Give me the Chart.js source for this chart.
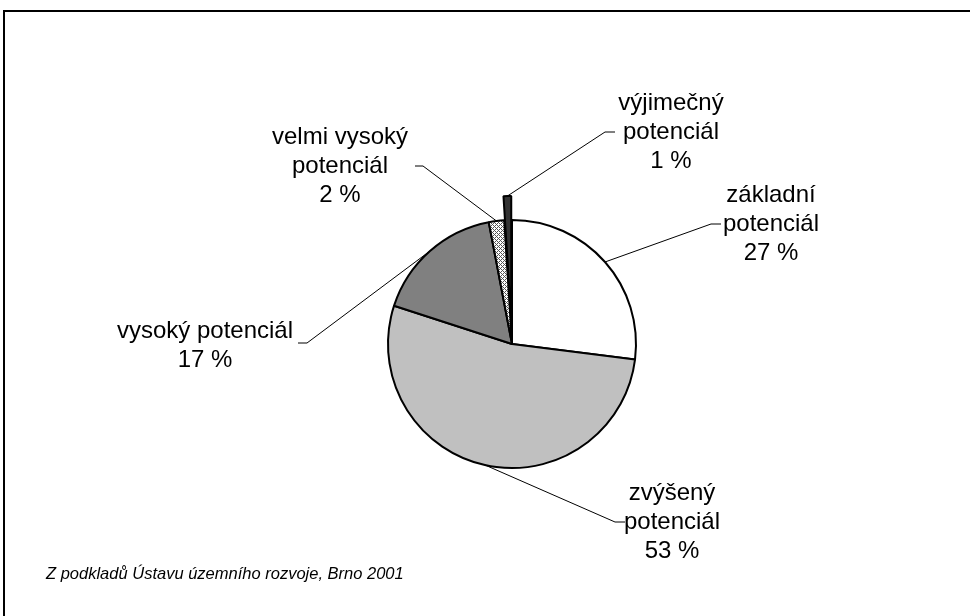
<!DOCTYPE html>
<html>
<head>
<meta charset="utf-8">
<script src="https://cdn.jsdelivr.net/npm/chart.js@4/dist/chart.umd.min.js"></script>
<style>
html, body { margin: 0; padding: 0; background: #fff; }
</style>
</head>
<body>
<canvas id="pie" width="970" height="616"></canvas>
<script>
// data
var categories = [['základní', 'potenciál'], ['zvýšený', 'potenciál'], ['vysoký potenciál'], ['velmi vysoký', 'potenciál'], ['výjimečný', 'potenciál']];
var shares = [27, 53, 17, 2, 1];
var note = 'Z podkladů Ústavu územního rozvoje, Brno 2001';

// styling / layout
var explode = [0, 0, 0, 0, 24];
var labelPos = [
    { x: 771, y: 202, elbow: [711, 224], stub: 721 },
    { x: 672, y: 500, elbow: [615, 522], stub: 625 },
    { x: 205, y: 338, elbow: [307, 343], stub: 298 },
    { x: 340, y: 144, elbow: [423, 166], stub: 415 },
    { x: 671, y: 110, elbow: [605, 132], stub: 615 }
];

var canvas = document.getElementById('pie');
var ctx = canvas.getContext('2d');

var hatch = (function () {
    var c = document.createElement('canvas');
    c.width = 4; c.height = 4;
    var g = c.getContext('2d');
    g.fillStyle = '#ffffff';
    g.fillRect(0, 0, 4, 4);
    g.fillStyle = '#555555';
    for (var x = 0; x < 4; x++) {
        for (var y = 0; y < 4; y++) {
            if ((x + y) % 4 === 0 || (x - y + 4) % 4 === 0) g.fillRect(x, y, 1, 1);
        }
    }
    return ctx.createPattern(c, 'repeat');
})();

var explodePlugin = {
    id: 'explode',
    beforeDatasetDraw: function (chart) {
        chart.getDatasetMeta(0).data.forEach(function (arc, i) {
            var mid = (arc.startAngle + arc.endAngle) / 2;
            arc._dx = Math.cos(mid) * explode[i];
            arc._dy = Math.sin(mid) * explode[i];
            arc.x += arc._dx;
            arc.y += arc._dy;
        });
    },
    afterDatasetDraw: function (chart) {
        chart.getDatasetMeta(0).data.forEach(function (arc) {
            arc.x -= arc._dx;
            arc.y -= arc._dy;
        });
    }
};

var decorPlugin = {
    id: 'decor',
    beforeDraw: function (chart) {
        var c = chart.ctx;
        c.save();
        c.fillStyle = '#000';
        c.fillRect(3, 10, 967, 2);
        c.fillRect(3, 10, 2, 606);
        c.restore();
    },
    afterDraw: function (chart) {
        var c = chart.ctx;
        var meta = chart.getDatasetMeta(0);
        c.save();
        c.strokeStyle = '#000';
        c.lineWidth = 1;
        c.fillStyle = '#000';
        c.textAlign = 'center';
        c.textBaseline = 'alphabetic';
        c.font = '24px "Liberation Sans", Arial, sans-serif';
        meta.data.forEach(function (arc, i) {
            var mid = (arc.startAngle + arc.endAngle) / 2;
            var r = arc.outerRadius + explode[i];
            var sx = arc.x + Math.cos(mid) * r;
            var sy = arc.y + Math.sin(mid) * r;
            var L = labelPos[i];
            c.beginPath();
            c.moveTo(sx, sy);
            c.lineTo(L.elbow[0], L.elbow[1]);
            c.lineTo(L.stub, L.elbow[1]);
            c.stroke();
            var lines = categories[i].concat([shares[i] + ' %']);
            lines.forEach(function (t, k) {
                c.fillText(t, L.x, L.y + k * 29);
            });
        });
        c.textAlign = 'left';
        c.font = 'italic 16.5px "Liberation Sans", Arial, sans-serif';
        c.fillText(note, 46, 579);
        c.restore();
    }
};

new Chart(ctx, {
    type: 'pie',
    data: {
        labels: categories.map(function (l) { return l.join(' '); }),
        datasets: [{
            data: shares,
            backgroundColor: ['#ffffff', '#c0c0c0', '#808080', hatch, '#333333'],
            borderColor: '#000000',
            borderWidth: 2
        }]
    },
    options: {
        responsive: false,
        animation: false,
        radius: 124,
        layout: { padding: { left: 54, right: 0, top: 72, bottom: 0 } },
        plugins: {
            legend: { display: false },
            tooltip: { enabled: false }
        }
    },
    plugins: [explodePlugin, decorPlugin]
});
</script>
</body>
</html>
